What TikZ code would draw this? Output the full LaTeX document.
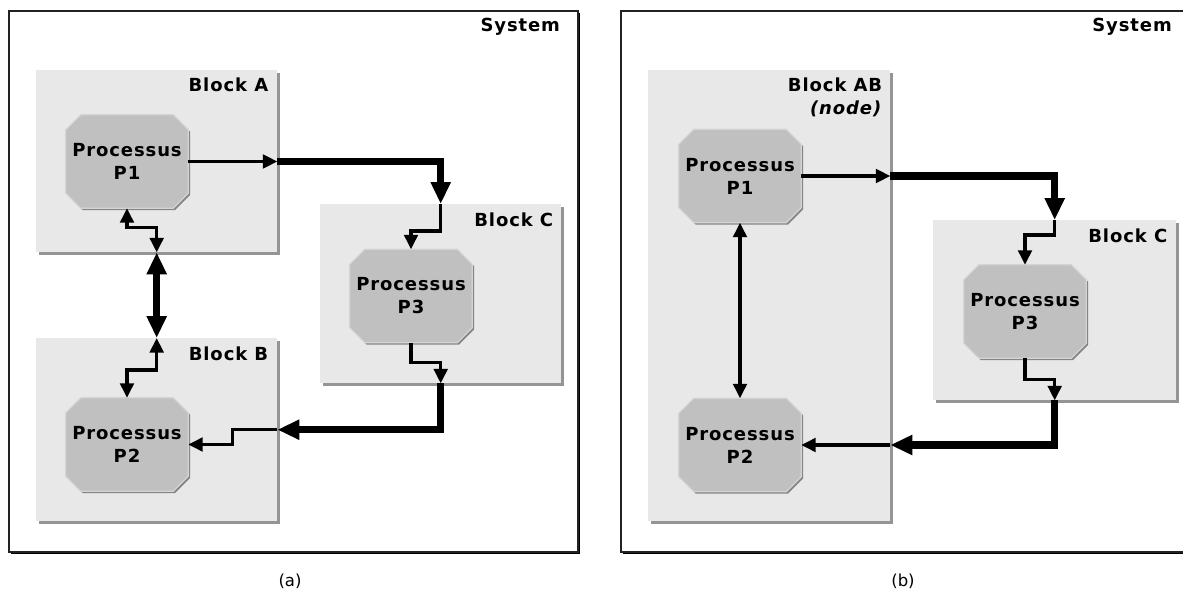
\documentclass[tikz,border=0pt]{standalone}
\usepackage{fontspec}
\setsansfont{DejaVu Sans}
\newfontfamily\labfont{DejaVu Sans}[LetterSpace=5]
\usetikzlibrary{arrows.meta,shadows}
\definecolor{blockfill}{HTML}{E8E8E8}
\definecolor{blockshadow}{HTML}{959595}
\definecolor{procfill}{HTML}{C0C0C0}
\definecolor{procedge}{HTML}{D4D4D4}
\definecolor{procshadow}{HTML}{858585}
\definecolor{frameline}{HTML}{222222}
\pgfdeclarelayer{frames}
\pgfdeclarelayer{procs}
\pgfsetlayers{frames,procs,main}
\newcommand\octpath[3]{([xshift=15pt+#2,yshift=#3]#1.north west) -- ([xshift=-15pt+#2,yshift=#3]#1.north east) -- ([xshift=#2,yshift=-15pt+#3]#1.north east) -- ([xshift=#2,yshift=15pt+#3]#1.south east) -- ([xshift=-15pt+#2,yshift=#3]#1.south east) -- ([xshift=15pt+#2,yshift=#3]#1.south west) -- ([xshift=#2,yshift=15pt+#3]#1.south west) -- ([xshift=#2,yshift=-15pt+#3]#1.north west) -- cycle}
\newcommand\drawoct[1]{%
  \fill[procshadow] \octpath{#1}{1.8pt}{-1.8pt};
  \filldraw[fill=procfill, draw=procedge, line width=1.2pt] \octpath{#1}{0pt}{0pt};}
\tikzset{
  sysframe/.style={draw=frameline, line width=2.2pt, fill=white, inner sep=0pt, anchor=north west,
    drop shadow={shadow xshift=2.2pt, shadow yshift=-2.2pt, fill=black, opacity=1}},
  blockbox/.style={fill=blockfill, inner sep=0pt, anchor=north west,
    drop shadow={shadow xshift=3pt, shadow yshift=-3pt, fill=blockshadow, opacity=1}},
  labtext/.style={font=\labfont\bfseries\fontsize{18}{23}\selectfont, inner sep=0pt, anchor=north east, align=right},
  proc/.style={minimum width=122pt, minimum height=93pt, inner sep=0pt, align=center,
    font=\labfont\bfseries\fontsize{18}{23}\selectfont},
  caption/.style={font=\sffamily\fontsize{16.5}{19}\selectfont, inner sep=0pt},
  thintip/.tip={Triangle[length=14.5pt,width=13.5pt]},
  bigtip/.tip={Triangle[length=22pt,width=19pt]},
  thinarrow/.style={line width=3.4pt, -thintip},
  thinboth/.style={line width=3.4pt, thintip-thintip},
  thickarrow/.style={line width=7.5pt, -bigtip},
  thickboth/.style={line width=7.5pt, bigtip-bigtip}
}
\begin{document}
\begin{tikzpicture}[x=1pt,y=-1pt]
\clip (0,0) rectangle (1183,594);

% ---------- frames and blocks ----------
\begin{pgfonlayer}{frames}
  \fill[white] (0,0) rectangle (1183,594);
  \node[sysframe, minimum width=569pt, minimum height=541pt] (sysA) at (8,10) {};
  \node[sysframe, minimum width=620pt, minimum height=541pt] (sysB) at (620,10) {};
  \node[blockbox, minimum width=241pt, minimum height=182pt] (blockA) at (36,70) {};
  \node[blockbox, minimum width=241pt, minimum height=183pt] (blockB) at (36,338) {};
  \node[blockbox, minimum width=241pt, minimum height=179pt] (blockC) at (320,204) {};
  \node[blockbox, minimum width=242pt, minimum height=451pt] (blockAB) at (648,70) {};
  \node[blockbox, minimum width=243pt, minimum height=180pt] (blockCb) at (933,220) {};
\end{pgfonlayer}

% ---------- labels ----------
\node[labtext] (sysAlab) at ([xshift=-19pt,yshift=-8pt]sysA.north east) {System};
\node[labtext] (sysBlab) at (1172,18) {System};
\node[labtext] (blockAlab) at ([xshift=-9pt,yshift=-8pt]blockA.north east) {Block A};
\node[labtext] (blockBlab) at ([xshift=-9pt,yshift=-9pt]blockB.north east) {Block B};
\node[labtext] (blockClab) at ([xshift=-8pt,yshift=-9pt]blockC.north east) {Block C};
\node[labtext] (blockABlab) at ([xshift=-8pt,yshift=-8pt]blockAB.north east) {Block AB\\\textit{(node)}};
\node[labtext] (blockCblab) at ([xshift=-9pt,yshift=-9pt]blockCb.north east) {Block C};

% ---------- processes ----------
\node[proc] (P1a) at (127,161.5) {Processus\\P1};
\node[proc] (P2a) at (127,444.5) {Processus\\P2};
\node[proc] (P3a) at (411,296) {Processus\\P3};
\node[proc] (P1b) at (740,176) {Processus\\P1};
\node[proc] (P2b) at (740,445) {Processus\\P2};
\node[proc] (P3b) at (1025,311.5) {Processus\\P3};
\begin{pgfonlayer}{procs}
  \drawoct{P1a}\drawoct{P2a}\drawoct{P3a}
  \drawoct{P1b}\drawoct{P2b}\drawoct{P3b}
\end{pgfonlayer}

% ---------- connectors (a) ----------
\coordinate (aout) at (P1a.east -| blockA.east);
\draw[thinarrow] (P1a.east) -- (aout);
\draw[thickarrow] (aout) -| (blockC.north);
\draw[thinarrow] (blockC.north) -- ++(0,27) -| (P3a.north);
\draw[thinarrow] (P3a.south) -- ++(0,20) -| (blockC.south);
\draw[thickarrow] (blockC.south) |- (blockB.east);
\draw[thinarrow] (blockB.east) -- ++(-45,0) |- (P2a.east);
\draw[thinboth] (P1a.south) -- ++(0,19) -| (blockA.south);
\draw[thickboth] (blockA.south) -- (blockB.north);
\draw[thinboth] (blockB.north) -- ++(0,32) -| (P2a.north);

% ---------- connectors (b) ----------
\coordinate (bout) at (P1b.east -| blockAB.east);
\coordinate (bin) at (P2b.east -| blockAB.east);
\draw[thinarrow] (P1b.east) -- (bout);
\draw[thickarrow] (bout) -| (blockCb.north);
\draw[thinarrow] (blockCb.north) -- ++(0,15) -| (P3b.north);
\draw[thinarrow] (P3b.south) -- ++(0,21) -| (blockCb.south);
\draw[thickarrow] (blockCb.south) |- (bin);
\draw[thinarrow] (bin) -- (P2b.east);
\draw[thinboth] (P1b.south) -- (P2b.north);

% ---------- captions ----------
\node[caption] (capa) at (290,581) {(a)};
\node[caption] (capb) at (903,581) {(b)};
\end{tikzpicture}
\end{document}
